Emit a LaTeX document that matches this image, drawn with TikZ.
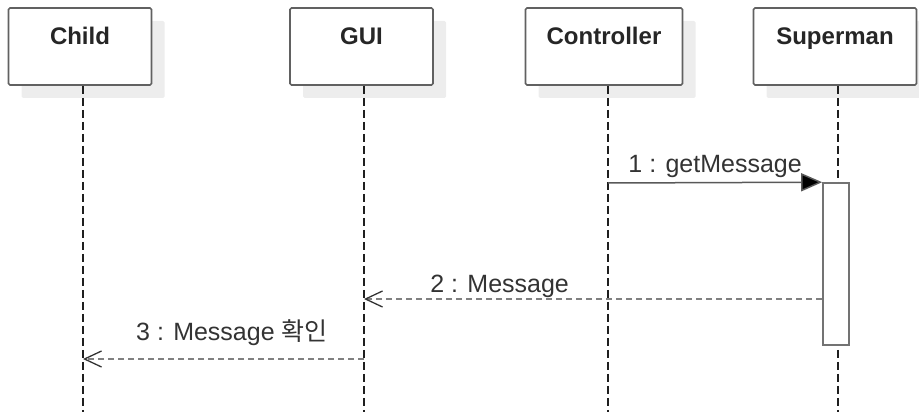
\documentclass[tikz,border=0pt]{standalone}
\usepackage{fontspec}
\setmainfont{Liberation Sans}
\newfontfamily\kofont{Noto Sans CJK KR}
\usetikzlibrary{arrows.meta, positioning, shadows}
\tikzstyle{actor} = [rectangle, minimum height=77pt, draw=black!62, line width=1.6pt, rounded corners=1.5pt, fill=white, drop shadow={shadow xshift=13pt, shadow yshift=-13pt, fill=black!7, opacity=1}]
\tikzstyle{actorname} = [font=\fontsize{24}{28}\selectfont\bfseries, text=black!85, anchor=base]
\tikzstyle{lifeline} = [line width=1.5pt, black!88, dash pattern=on 8pt off 4pt]
\tikzstyle{activation} = [rectangle, minimum width=26pt, minimum height=162pt, draw=black!55, line width=1.6pt, fill=white]
\tikzstyle{msg} = [font=\fontsize{25}{30}\selectfont, text=black!80, anchor=base]
\tikzstyle{sync} = [line width=1.5pt, black!65, -{Triangle[length=21pt,width=18pt,fill=black]}]
\tikzstyle{reply} = [line width=1.5pt, black!50, dash pattern=on 6pt off 4pt, -{Straight Barb[length=17pt,width=16pt,line width=1.3pt,black!80]}]

\begin{document}
\begin{tikzpicture}[x=1pt,y=-1pt]
\useasboundingbox (0,0) rectangle (919,412);
% lifeline heads
\node (child) [actor, minimum width=143pt] at (80,46.5) {};
\node (gui) [actor, minimum width=143pt] at (361.5,46.5) {};
\node (ctrl) [actor, minimum width=157pt] at (604,46.5) {};
\node (super) [actor, minimum width=163pt] at (835,46.5) {};
\node (childname) [actorname] at ([yshift=1.5pt]child.center) {Child};
\node (guiname) [actorname] at ([yshift=1.5pt]gui.center) {GUI};
\node (ctrlname) [actorname] at ([yshift=1.5pt]ctrl.center) {Controller};
\node (supername) [actorname] at ([yshift=1.5pt]super.center) {Superman};
% lifelines
\coordinate (childend) at (83,412);
\coordinate (guiend) at (364,412);
\coordinate (ctrlend) at (608,412);
\coordinate (superend) at (838,412);
\draw [lifeline] (childend |- child.south) -- (childend);
\draw [lifeline] (guiend |- gui.south) -- (guiend);
\draw [lifeline] (ctrlend |- ctrl.south) -- (ctrlend);
\draw [lifeline] (superend |- super.south) -- (superend);
% activation on Superman
\node (act) [activation] at (836,264) {};
% messages
\coordinate (m1) at (608,183);
\coordinate (m2) at (364,299);
\coordinate (m3s) at (364,359);
\coordinate (m3) at (83,359);
\draw [sync] (m1) -- (act.north west) node [msg, pos=0.5, yshift=10pt] {1 : getMessage};
\draw [reply] (act.west |- m2) -- (m2) node [msg, pos=0.704, yshift=7pt] {2 : Message};
\draw [reply] (m3s) -- (m3) node [msg, pos=0.47, yshift=19pt] {3 : Message {\kofont 확인}};
\end{tikzpicture}
\end{document}
